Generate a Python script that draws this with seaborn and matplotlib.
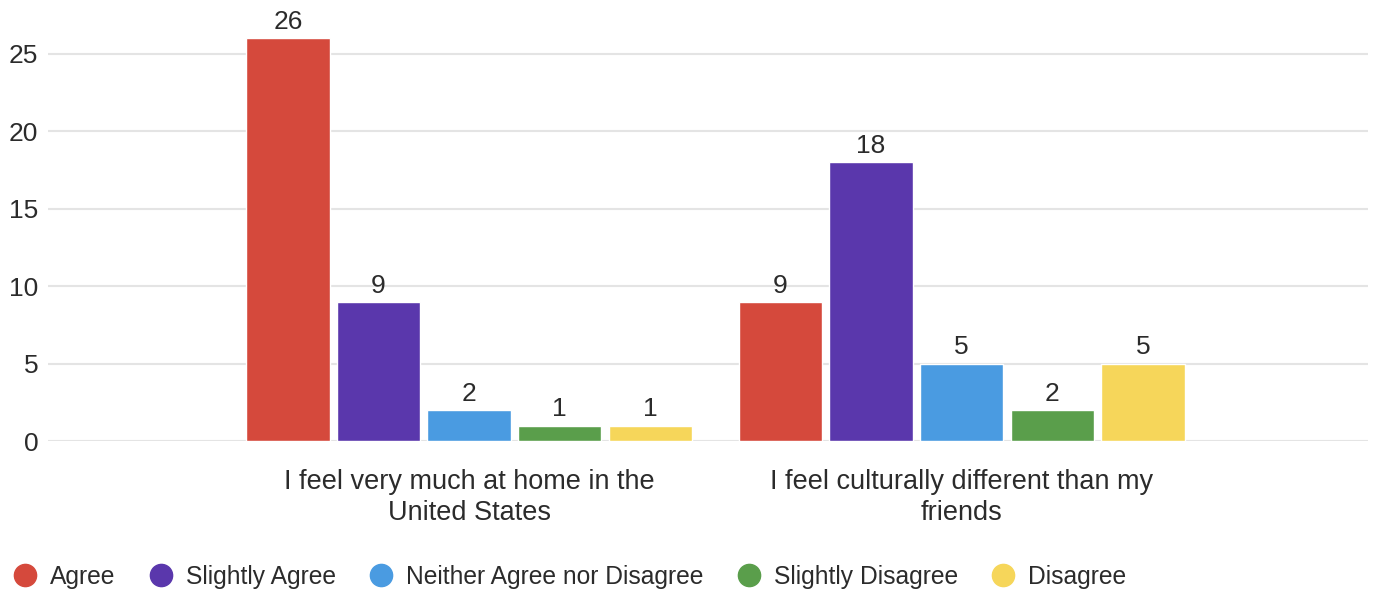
import matplotlib
matplotlib.use("Agg")
import matplotlib.pyplot as plt
from matplotlib.lines import Line2D
import pandas as pd
import seaborn as sns

# Survey statements (x categories) and response options (hue)
statements = [
    "I feel very much at home in the\nUnited States",
    "I feel culturally different than my\nfriends",
]
responses = ["Agree", "Slightly Agree", "Neither Agree nor Disagree",
             "Slightly Disagree", "Disagree"]

# Counts per response, one list per statement
home_counts = [26, 9, 2, 1, 1]
different_counts = [9, 18, 5, 2, 5]

colors = ["#D5493C", "#5A37AC", "#4A9BE1", "#5A9E4B", "#F6D65A"]
yticks = [0, 5, 10, 15, 20, 25]

rows = []
for stmt, counts in zip(statements, [home_counts, different_counts]):
    for resp, n in zip(responses, counts):
        rows.append({"statement": stmt, "response": resp, "count": n})
df = pd.DataFrame(rows)

sns.set_theme(style="white")
plt.rcParams["font.family"] = ["Liberation Sans", "DejaVu Sans"]
text_color = "#2b2b2b"

fig = plt.figure(figsize=(13.76, 5.90), dpi=100)
ax = fig.add_axes([0.0349, 0.2525, 0.9593, 0.7085])

sns.barplot(data=df, x="statement", y="count", hue="response",
            order=statements, hue_order=responses, palette=colors,
            width=0.92, gap=0.08, saturation=1, ax=ax, legend=False)

for cont in ax.containers:
    ax.bar_label(cont, fmt="%g", padding=3, fontsize=19, color=text_color)

ax.set_xlim(-0.855, 1.825)
ax.set_ylim(0, 27)
ax.set_yticks(yticks)
ax.grid(axis="y", color="#e4e4e4", linewidth=1.5)
ax.set_axisbelow(True)
for s in ax.spines.values():
    s.set_visible(False)
ax.set_xlabel("")
ax.set_ylabel("")
ax.tick_params(axis="y", length=0, pad=7, labelsize=19, labelcolor=text_color)
ax.tick_params(axis="x", length=0, pad=20, labelsize=19.5, labelcolor=text_color)
for lbl in ax.get_xticklabels():
    lbl.set_linespacing(1.28)

handles = [Line2D([0], [0], marker="o", linestyle="", markersize=16,
                  markerfacecolor=c, markeredgecolor=c) for c in colors]
fig.legend(handles, responses, loc="center left",
           bbox_to_anchor=(0.0093, 0.022), ncol=5, frameon=False,
           fontsize=17.7, handlelength=1.0, handletextpad=0.52,
           columnspacing=1.34, borderpad=0, borderaxespad=0,
           labelcolor=text_color)

fig.savefig("out.png", dpi=100, facecolor="white")
